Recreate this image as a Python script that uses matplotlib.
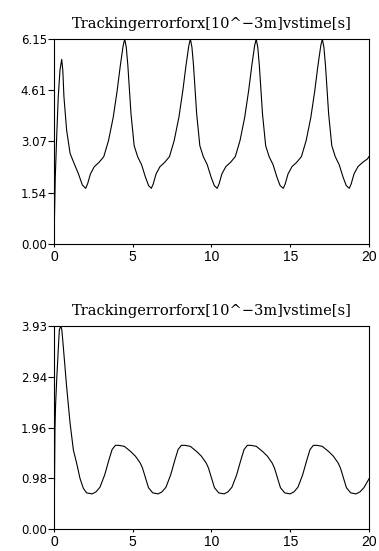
import matplotlib
matplotlib.use("Agg")
import matplotlib.pyplot as plt

TITLE = "Trackingerrorforx[10^\u22123m]vstime[s]"

# top panel: tracking error for x
t_top = [0.00, 0.03, 0.08, 0.17, 0.27, 0.38, 0.49, 0.56, 0.63, 0.80, 1.02, 1.23, 1.54, 1.80,
         2.01, 2.13, 2.31, 2.56, 2.86, 3.16, 3.46, 3.76, 4.01, 4.21, 4.39, 4.49, 4.59, 4.69, 4.89, 5.09, 5.31, 5.56, 5.81, 6.01,
         6.18, 6.30, 6.48, 6.73, 7.03, 7.33, 7.63, 7.93, 8.18, 8.38, 8.56, 8.66, 8.76, 8.86, 9.06, 9.26, 9.48, 9.73, 9.98, 10.18,
         10.36, 10.48, 10.66, 10.91, 11.21, 11.51, 11.81, 12.11, 12.36, 12.56, 12.74, 12.84, 12.94, 13.04, 13.24, 13.44, 13.66, 13.91, 14.16, 14.36,
         14.56, 14.68, 14.86, 15.11, 15.41, 15.71, 16.01, 16.31, 16.56, 16.76, 16.94, 17.04, 17.14, 17.24, 17.44, 17.64, 17.86, 18.11, 18.36, 18.56,
         18.75, 18.87, 19.05, 19.30, 19.60, 19.90, 20.00]
y_top = [0.00, 0.80, 2.00, 3.22, 4.42, 5.22, 5.54, 5.20, 4.42, 3.42, 2.72, 2.47, 2.12, 1.77,
         1.67, 1.80, 2.10, 2.32, 2.45, 2.62, 3.10, 3.80, 4.60, 5.35, 5.95, 6.15, 5.90, 5.35, 3.90, 2.95, 2.62, 2.38, 2.00, 1.75,
         1.67, 1.80, 2.10, 2.32, 2.45, 2.62, 3.10, 3.80, 4.60, 5.35, 5.95, 6.15, 5.90, 5.35, 3.90, 2.95, 2.62, 2.38, 2.00, 1.75,
         1.67, 1.80, 2.10, 2.32, 2.45, 2.62, 3.10, 3.80, 4.60, 5.35, 5.95, 6.15, 5.90, 5.35, 3.90, 2.95, 2.62, 2.38, 2.00, 1.75,
         1.67, 1.80, 2.10, 2.32, 2.45, 2.62, 3.10, 3.80, 4.60, 5.35, 5.95, 6.15, 5.90, 5.35, 3.90, 2.95, 2.62, 2.38, 2.00, 1.75,
         1.67, 1.80, 2.10, 2.32, 2.45, 2.55, 2.62]

# bottom panel
t_bot = [0.00, 0.03, 0.06, 0.10, 0.17, 0.28, 0.34, 0.44, 0.50, 0.59, 0.80, 1.02, 1.23, 1.44, 1.65, 1.86, 2.07,
         2.42, 2.67, 2.92, 3.22, 3.47, 3.69, 3.90, 4.12, 4.47, 4.87, 5.17, 5.47, 5.62, 5.80, 6.00, 6.27,
         6.61, 6.86, 7.11, 7.41, 7.66, 7.88, 8.09, 8.31, 8.66, 9.06, 9.36, 9.66, 9.81, 9.99, 10.19, 10.46,
         10.80, 11.05, 11.30, 11.60, 11.85, 12.07, 12.28, 12.50, 12.85, 13.25, 13.55, 13.85, 14.00, 14.18, 14.38, 14.65,
         14.99, 15.24, 15.49, 15.79, 16.04, 16.26, 16.47, 16.69, 17.04, 17.44, 17.74, 18.04, 18.19, 18.37, 18.57, 18.84,
         19.18, 19.43, 19.68, 20.00]
y_bot = [0.00, 0.80, 1.92, 2.40, 2.89, 3.53, 3.86, 3.93, 3.85, 3.53, 2.76, 2.05, 1.53, 1.27, 0.98, 0.79, 0.70,
         0.68, 0.72, 0.81, 1.05, 1.32, 1.54, 1.62, 1.62, 1.60, 1.50, 1.41, 1.28, 1.18, 1.00, 0.80, 0.70,
         0.68, 0.72, 0.81, 1.05, 1.32, 1.54, 1.62, 1.62, 1.60, 1.50, 1.41, 1.28, 1.18, 1.00, 0.80, 0.70,
         0.68, 0.72, 0.81, 1.05, 1.32, 1.54, 1.62, 1.62, 1.60, 1.50, 1.41, 1.28, 1.18, 1.00, 0.80, 0.70,
         0.68, 0.72, 0.81, 1.05, 1.32, 1.54, 1.62, 1.62, 1.60, 1.50, 1.41, 1.28, 1.18, 1.00, 0.80, 0.70,
         0.68, 0.72, 0.80, 0.97]

x_ticks = [0, 5, 10, 15, 20]
top_yticks = [0.0, 1.5375, 3.075, 4.6125, 6.15]
top_ylabels = ["0.00", "1.54", "3.07", "4.61", "6.15"]
bot_yticks = [0.0, 0.9825, 1.965, 2.9475, 3.93]
bot_ylabels = ["0.00", "0.98", "1.96", "2.94", "3.93"]


def style_axes(ax, yticks, ylabels):
    ax.set_xlim(0, 20)
    ax.set_ylim(0, yticks[-1])
    ax.set_xticks(x_ticks)
    ax.set_xticklabels([str(v) for v in x_ticks], fontfamily="Liberation Sans", fontsize=10)
    ax.set_yticks(yticks)
    ax.set_yticklabels(ylabels, fontfamily="DejaVu Sans", fontsize=8.5)
    ax.tick_params(axis="x", direction="out", length=2.5, width=0.8, pad=1.5)
    ax.tick_params(axis="y", direction="out", length=4.5, width=0.8, pad=0.5)
    for s in ax.spines.values():
        s.set_linewidth(0.8)
    ax.set_title(TITLE, fontfamily="DejaVu Serif", fontsize=10.5, pad=8)


fig = plt.figure(figsize=(3.79, 5.51), dpi=100)
ax1 = fig.add_axes([0.1425, 0.5572, 0.831, 0.372])
ax1.plot(t_top, y_top, color="black", lw=0.8)
style_axes(ax1, top_yticks, top_ylabels)

ax2 = fig.add_axes([0.1425, 0.0399, 0.831, 0.3684])
ax2.plot(t_bot, y_bot, color="black", lw=0.8)
style_axes(ax2, bot_yticks, bot_ylabels)

fig.savefig("out.png", dpi=100)
